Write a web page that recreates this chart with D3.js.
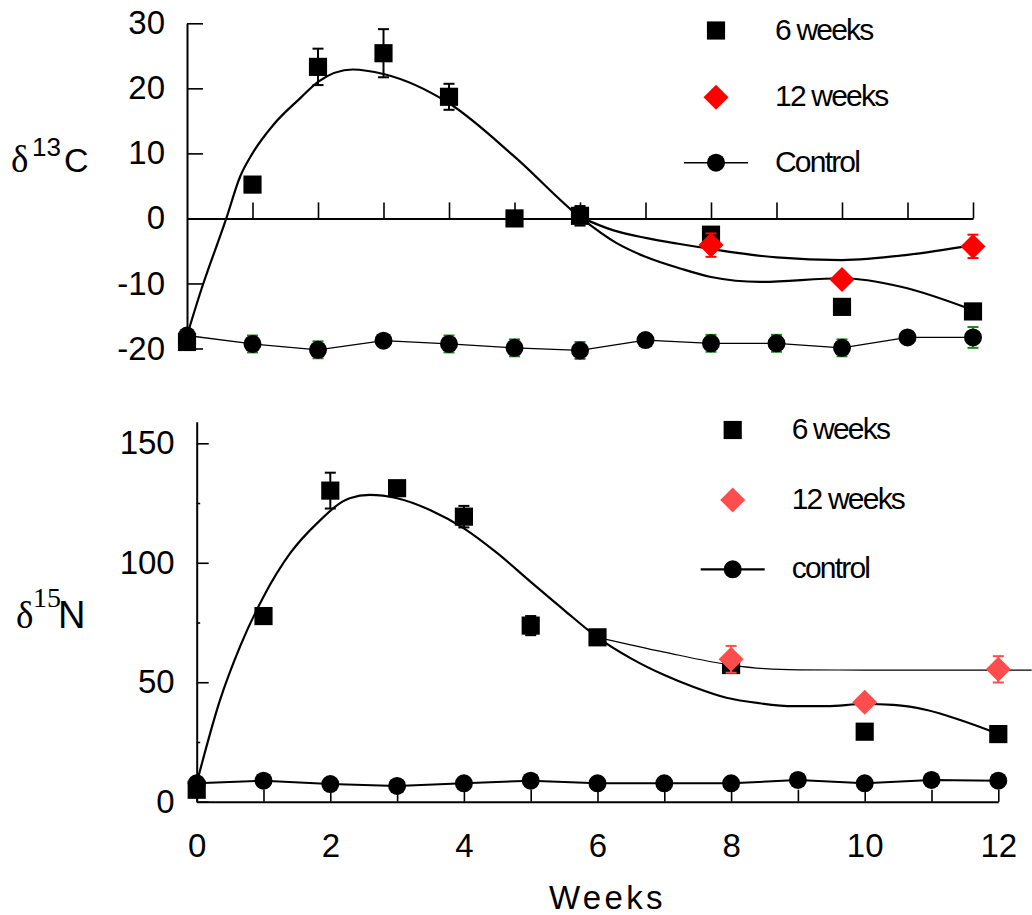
<!DOCTYPE html>
<html>
<head>
<meta charset="utf-8">
<script src="https://cdn.jsdelivr.net/npm/d3@7"></script>
<style>
  body { margin: 0; background: #fff; }
  text { font-family: "Liberation Sans", Arial, sans-serif; fill: #000; }
</style>
</head>
<body>
<svg width="1032" height="915"></svg>
<script>
// ---- data ----
const weeksCtrl = d3.range(0, 13);
const weeksSix = [0, 1, 2, 3, 4, 5, 6, 8, 10, 12];
const weeksTwelve = [8, 10, 12];

// delta 13C
const c13Six = [-19, 5.2, 23.3, 25.4, 18.7, 0, 0.4, -2.5, -13.6, -14.3];
const c13SixErr = [0, 0, 2.8, 3.7, 2, 0, 1.5, 0, 0, 0];
const c13Twelve = [-4.1, -9.4, -4.3];
const c13TwelveErr = [1.8, 0, 1.8];
const c13Ctrl = [-18, -19.3, -20.2, -18.8, -19.3, -19.9, -20.3, -18.7, -19.2, -19.2, -19.9, -18.3, -18.3];
const c13CtrlErr = [0, 1.3, 1.3, 0, 1.3, 1.3, 1.3, 0, 1.3, 1.3, 1.3, 0, 1.6];
const c13FitLower = [[0, -18], [0.2, -11.5], [0.6, 0], [0.81, 6.4], [1, 10], [1.32, 14.4], [1.73, 18.5],
  [2, 21], [2.53, 22.9], [3, 22.2], [4, 17.7], [5, 9.5], [6, 0.2], [6.56, -3.8], [7, -5.9],
  [7.53, -7.7], [8, -9], [8.75, -9.75], [10, -9.2], [10.9, -10.5], [12, -14.1]];
const c13FitUpper = [[6, 0.2], [6.5, -1.8], [7, -3.0], [7.5, -3.9], [8, -4.7], [9, -6], [10, -6.4],
  [11, -5.6], [12, -4.1]];

// delta 15N
const n15Six = [5, 77.7, 130.2, 131.2, 119.3, 73.7, 68.8, 57.2, 29.3, 28.3];
const n15SixErr = [0, 0, 7.5, 0, 4.5, 4, 0, 0, 0, 0];
const n15Twelve = [59.6, 41.6, 55.4];
const n15TwelveErr = [5.6, 0, 5.5];
const n15Ctrl = [7.7, 8.8, 7.4, 6.6, 7.7, 8.8, 7.7, 7.7, 7.7, 9.1, 7.7, 9.1, 8.8];
const n15CtrlErr = [0, 0, 0, 0, 0, 0, 0, 0, 0, 0, 0, 0, 0];
const n15FitLower = [[0, 7.8], [0.35, 42.6], [0.65, 65], [1, 85.8], [1.4, 104], [1.8, 116.5],
  [2.29, 127], [2.59, 128.4], [3, 127], [3.5, 122], [4, 114.4], [4.5, 104], [5, 92], [5.5, 80.2],
  [6, 68.8], [6.5, 60], [7, 53], [7.43, 48.1], [7.93, 43.5], [8.43, 41.2], [8.93, 40], [9.43, 40],
  [10, 40.9], [10.43, 40.5], [10.93, 38.4], [11.43, 34.2], [12, 28.4]];
const n15FitUpper = [[6, 68.8], [7, 62.6], [8, 57.2], [8.5, 55.7], [9, 55.2], [10, 55.1],
  [11, 55.1], [12, 55.1], [12.5, 55.1]];

const c13Ticks = [-20, -10, 0, 10, 20, 30];
const n15Ticks = [0, 50, 100, 150];
const n15MinorTicks = [25, 75, 125];
const xLabelTicks = [0, 2, 4, 6, 8, 10, 12];

const svg = d3.select("svg");

const sq = d3.symbol(d3.symbolSquare, 330);
const dia = d3.symbol(d3.symbolSquare, 312);

function panel(o) {
  const g = svg.append("g");
  const xy = (w, v) => [o.x(w), o.y(v)];

  // fitted curves
  const fit = d3.line().x(d => o.x(d[0])).y(d => o.y(d[1])).curve(d3.curveMonotoneX);
  g.append("path").attr("d", fit(o.fitLower))
    .attr("fill", "none").attr("stroke", "#000").attr("stroke-width", 2.2);
  g.append("path").attr("d", fit(o.fitUpper))
    .attr("fill", "none").attr("stroke", "#000").attr("stroke-width", o.upperWidth);

  // control line
  const ctrlPts = weeksCtrl.map((w, i) => xy(w, o.ctrl[i]));
  g.append("path").attr("d", d3.line()(ctrlPts))
    .attr("fill", "none").attr("stroke", "#000").attr("stroke-width", o.ctrlWidth);

  function errBars(weeks, vals, errs, color) {
    weeks.forEach((w, i) => {
      if (!errs[i]) return;
      const cx = o.x(w), y1 = o.y(vals[i] + errs[i]), y2 = o.y(vals[i] - errs[i]);
      g.append("line").attr("x1", cx).attr("x2", cx).attr("y1", y1).attr("y2", y2)
        .attr("stroke", color).attr("stroke-width", 2);
      [y1, y2].forEach(yy => g.append("line")
        .attr("x1", cx - 5.5).attr("x2", cx + 5.5).attr("y1", yy).attr("y2", yy)
        .attr("stroke", color).attr("stroke-width", 2));
    });
  }

  errBars(weeksSix, o.six, o.sixErr, "#000");
  g.selectAll(null).data(weeksSix).join("path")
    .attr("d", sq)
    .attr("transform", (w, i) => `translate(${o.x(w)},${o.y(o.six[i])})`)
    .attr("fill", "#000");

  errBars(weeksTwelve, o.twelve, o.twelveErr, o.red);
  g.selectAll(null).data(weeksTwelve).join("path")
    .attr("d", dia)
    .attr("transform", (w, i) => `translate(${o.x(w)},${o.y(o.twelve[i])}) rotate(45)`)
    .attr("fill", o.red);

  errBars(weeksCtrl, o.ctrl, o.ctrlErr, "#1a8a1a");
  g.selectAll(null).data(weeksCtrl).join("circle")
    .attr("cx", w => o.x(w))
    .attr("cy", (w, i) => o.y(o.ctrl[i]))
    .attr("r", 9)
    .attr("fill", "#000");

  // legend
  const L = o.legend;
  g.append("path").attr("d", sq).attr("transform", `translate(${L.x},${L.y[0]})`).attr("fill", "#000");
  g.append("path").attr("d", dia).attr("transform", `translate(${L.x},${L.y[1]}) rotate(45)`).attr("fill", o.red);
  g.append("line").attr("x1", L.x - 32).attr("x2", L.x + 32).attr("y1", L.y[2]).attr("y2", L.y[2])
    .attr("stroke", "#000").attr("stroke-width", o.ctrlWidth + 0.3);
  g.append("circle").attr("cx", L.x).attr("cy", L.y[2]).attr("r", 9).attr("fill", "#000");
  L.labels.forEach((t, i) => g.append("text")
    .attr("x", L.tx).attr("y", L.y[i] + 9)
    .attr("font-size", 30).attr("letter-spacing", "-1.8px")
    .text(t));
  return g;
}

// ---------- top panel: delta 13C ----------
const xTop = d3.scaleLinear([0, 12], [187, 973]);
const yTop = d3.scaleLinear([-20, 30], [348.5, 23.3]);

const axTop = svg.append("g");
axTop.append("g").attr("transform", "translate(187,0)")
  .call(d3.axisLeft(yTop).tickValues(c13Ticks).tickSizeInner(-16).tickSizeOuter(0).tickPadding(22)
    .tickFormat(d => String(d)));
axTop.append("g").attr("transform", `translate(0,${yTop(0)})`)
  .call(d3.axisBottom(xTop).tickValues(d3.range(1, 13)).tickSizeInner(-16).tickSizeOuter(0).tickFormat(""));

panel({
  x: xTop, y: yTop,
  six: c13Six, sixErr: c13SixErr,
  twelve: c13Twelve, twelveErr: c13TwelveErr,
  ctrl: c13Ctrl, ctrlErr: c13CtrlErr,
  fitLower: c13FitLower, fitUpper: c13FitUpper,
  upperWidth: 2.2, ctrlWidth: 1.3, red: "#ff0000",
  legend: { x: 716, tx: 775, y: [30.5, 97.3, 162.7], labels: ["6 weeks", "12 weeks", "Control"] }
});

// ---------- bottom panel: delta 15N ----------
const xBot = d3.scaleLinear([0, 12], [196.7, 998.3]);
const yBot = d3.scaleLinear([0, 159], [801.7, 421.8]);

const axBot = svg.append("g");
axBot.append("g").attr("transform", "translate(196.7,0)")
  .call(d3.axisLeft(yBot).tickValues(n15Ticks).tickSizeInner(-12).tickSizeOuter(0).tickPadding(22)
    .tickFormat(d => String(d)));
axBot.append("g").attr("transform", "translate(196.7,0)")
  .call(d3.axisLeft(yBot).tickValues(n15MinorTicks).tickSizeInner(-3.5).tickSizeOuter(0).tickFormat(""))
  .call(a => a.select(".domain").remove());
axBot.append("g").attr("transform", `translate(0,${yBot(0)})`)
  .call(d3.axisBottom(xBot).tickValues(weeksCtrl).tickSizeInner(-12).tickSizeOuter(0).tickPadding(32)
    .tickFormat(d => xLabelTicks.includes(d) ? String(d) : ""));

panel({
  x: xBot, y: yBot,
  six: n15Six, sixErr: n15SixErr,
  twelve: n15Twelve, twelveErr: n15TwelveErr,
  ctrl: n15Ctrl, ctrlErr: n15CtrlErr,
  fitLower: n15FitLower, fitUpper: n15FitUpper,
  upperWidth: 1.2, ctrlWidth: 2, red: "#ff4c4c",
  legend: { x: 732.7, tx: 791.7, y: [430, 500, 569.3], labels: ["6 weeks", "12 weeks", "control"] }
});

// axis styling
svg.selectAll(".domain").attr("stroke", "#000").attr("stroke-width", 2);
svg.selectAll(".tick line").attr("stroke", "#000").attr("stroke-width", 1.6);
svg.selectAll(".tick text").attr("font-size", 33).attr("font-family", "Liberation Sans, Arial, sans-serif");

// axis titles
const t13 = svg.append("text").attr("y", 171.7);
t13.append("tspan").attr("x", 11).attr("font-family", "Liberation Serif, Times New Roman, serif")
  .attr("font-size", 37).text("δ");
t13.append("tspan").attr("x", 32).attr("y", 156).attr("font-size", 26).text("13");
t13.append("tspan").attr("x", 64).attr("y", 171.7).attr("font-size", 34).text("C");

const t15 = svg.append("text").attr("y", 628.3);
t15.append("tspan").attr("x", 16).attr("font-family", "Liberation Serif, Times New Roman, serif")
  .attr("font-size", 37).text("δ");
t15.append("tspan").attr("x", 33).attr("y", 606.7).attr("font-size", 28)
  .attr("font-family", "Liberation Serif, Times New Roman, serif").text("15");
t15.append("tspan").attr("x", 58).attr("y", 628.3).attr("font-size", 38).text("N");

svg.append("text").attr("x", 549).attr("y", 909)
  .attr("font-size", 33).attr("letter-spacing", "3.3px").text("Weeks");
</script>
</body>
</html>
